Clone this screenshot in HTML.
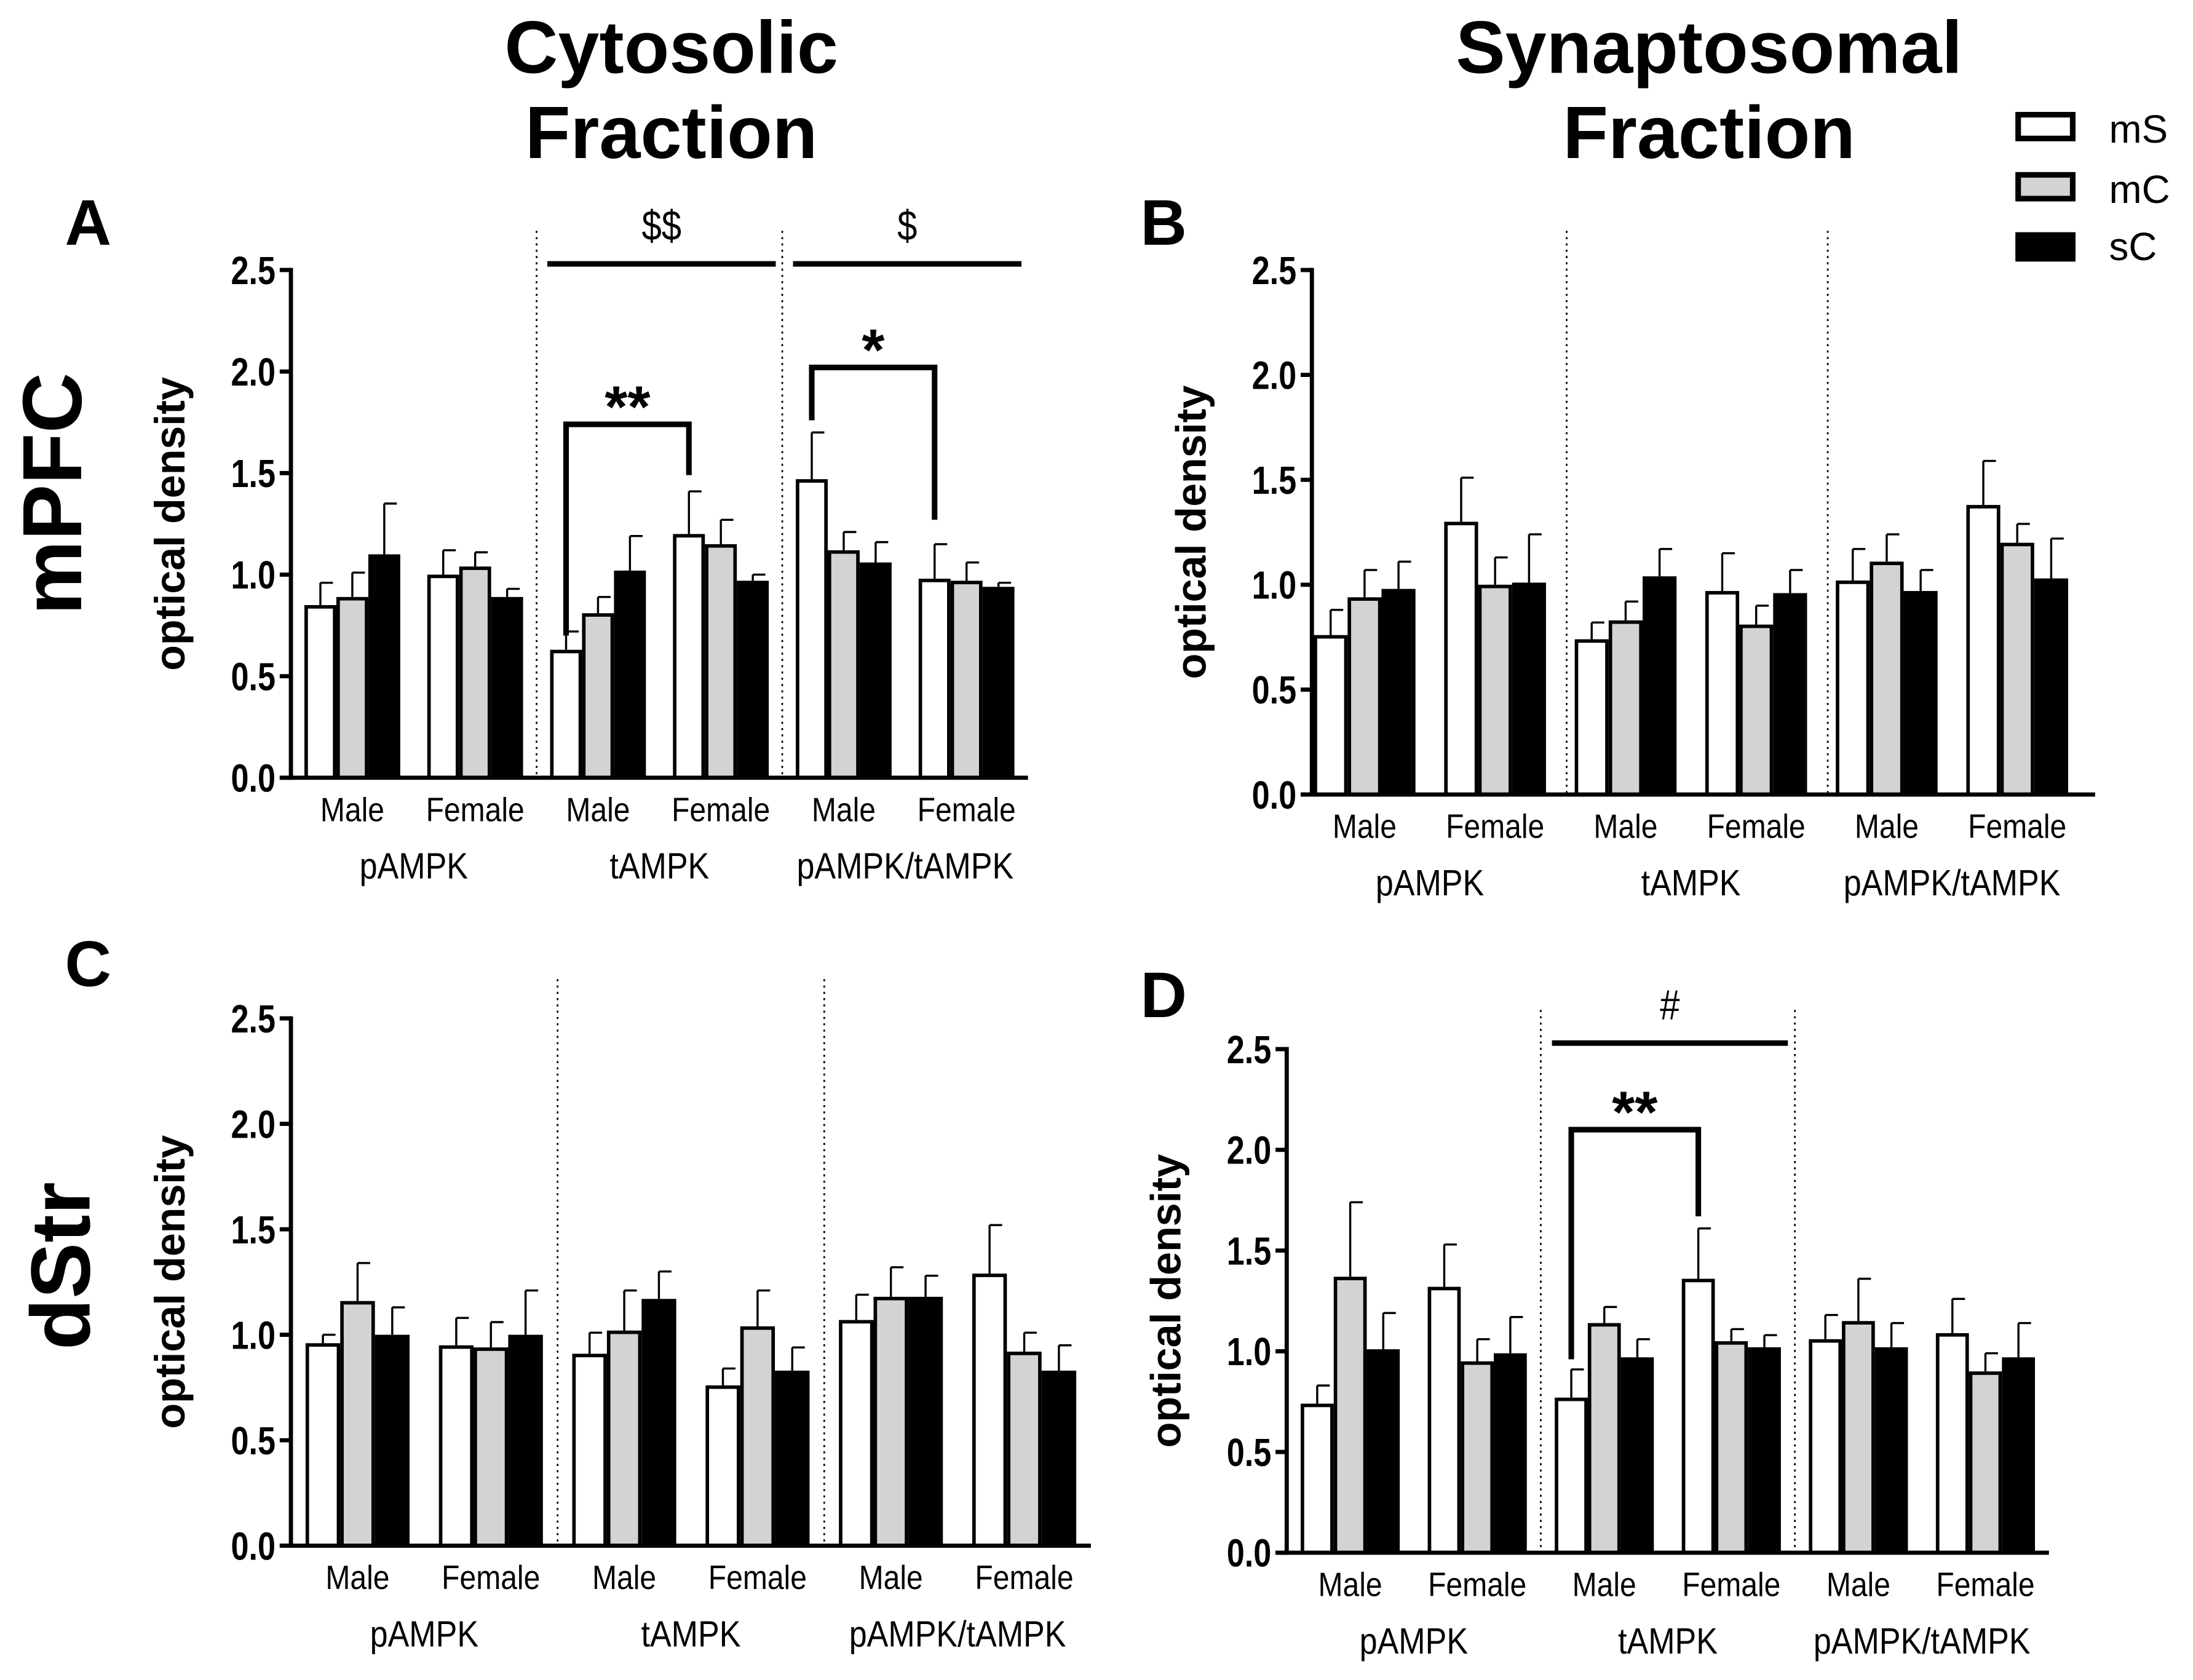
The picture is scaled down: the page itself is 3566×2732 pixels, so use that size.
<!DOCTYPE html>
<html><head><meta charset="utf-8"><style>
html,body{margin:0;padding:0;background:#fff}
svg{display:block}
text{font-family:"Liberation Sans",sans-serif}
</style></head><body>
<svg id="fig" xmlns="http://www.w3.org/2000/svg" width="3566" height="2732" viewBox="0 0 1568 1201" preserveAspectRatio="none">
<rect width="1568" height="1201" fill="#fff"/>
<text x="480" y="52" font-size="53" font-weight="bold" text-anchor="middle">Cytosolic</text>
<text x="480" y="113" font-size="53" font-weight="bold" text-anchor="middle">Fraction</text>
<text x="1222" y="52" font-size="53" font-weight="bold" text-anchor="middle">Synaptosomal</text>
<text x="1222" y="113" font-size="53" font-weight="bold" text-anchor="middle">Fraction</text>
<text transform="translate(58,353) rotate(-90)" font-size="60" font-weight="bold" text-anchor="middle">mPFC</text>
<text transform="translate(64,905) rotate(-90)" font-size="60" font-weight="bold" text-anchor="middle">dStr</text>
<g>
<rect x="1443" y="82" width="39" height="17" fill="#fff" stroke="#000" stroke-width="4"/>
<text x="1508" y="102" font-size="28">mS</text>
<rect x="1443" y="125" width="39" height="17" fill="#d3d3d3" stroke="#000" stroke-width="4"/>
<text x="1508" y="145" font-size="28">mC</text>
<rect x="1441" y="166" width="43" height="21" fill="#000"/>
<text x="1508" y="186" font-size="28">sC</text>
</g>
</svg>
<script>
const seriesNames=["mS","mC","sC"];
const clusterLabels=["Male","Female","Male","Female","Male","Female"];
const groupLabels=["pAMPK","tAMPK","pAMPK/tAMPK"];
const yTicks=[0,0.5,1.0,1.5,2.0,2.5];
const yTickLabels=["0.0","0.5","1.0","1.5","2.0","2.5"];
const panelA_values=[[0.85,0.89,1.10],[1.00,1.04,0.89],[0.63,0.81,1.02],[1.20,1.15,0.97],[1.47,1.12,1.06],[0.98,0.97,0.94]];
const panelA_errors=[[0.11,0.12,0.25],[0.12,0.07,0.04],[0.09,0.08,0.17],[0.21,0.12,0.03],[0.23,0.09,0.10],[0.17,0.09,0.02]];
const panelB_values=[[0.76,0.94,0.98],[1.30,1.00,1.01],[0.74,0.83,1.04],[0.97,0.81,0.96],[1.02,1.11,0.97],[1.38,1.20,1.03]];
const panelB_errors=[[0.12,0.13,0.13],[0.21,0.13,0.23],[0.08,0.09,0.13],[0.18,0.09,0.11],[0.15,0.13,0.10],[0.21,0.09,0.19]];
const panelC_values=[[0.96,1.16,1.00],[0.95,0.94,1.00],[0.91,1.02,1.17],[0.76,1.04,0.83],[1.07,1.18,1.18],[1.29,0.92,0.83]];
const panelC_errors=[[0.04,0.18,0.13],[0.13,0.12,0.21],[0.10,0.19,0.13],[0.08,0.17,0.11],[0.12,0.14,0.10],[0.23,0.09,0.12]];
const panelD_values=[[0.74,1.37,1.01],[1.32,0.95,0.99],[0.77,1.14,0.97],[1.36,1.05,1.02],[1.06,1.15,1.02],[1.09,0.90,0.97]];
const panelD_errors=[[0.09,0.37,0.18],[0.21,0.11,0.18],[0.14,0.08,0.09],[0.25,0.06,0.06],[0.12,0.21,0.12],[0.17,0.09,0.17]];
// significance: [leftCluster,rightCluster,leftBottom,top,rightBottom,label]
const panelA_brackets=[[2,3,0.70,1.74,1.49,"**"],[4,5,1.76,2.02,1.27,"*"]];
const panelA_lines=[[2,3,"$$"],[4,5,"$"]];
const panelD_brackets=[[2,3,0.96,2.10,1.67,"**"]];
const panelD_lines=[[2,3,"#"]];

const svg=document.getElementById('fig');
const NS="http://www.w3.org/2000/svg";
function mk(tag,attrs,parent){const e=document.createElementNS(NS,tag);for(const k in attrs)e.setAttribute(k,attrs[k]);(parent||svg).appendChild(e);return e;}
function squeeze(x,f){return `translate(${x},0) scale(${f},1) translate(${-x},0)`;}
const fills=["#fff","#d3d3d3","#000"];

function panel(id,letter,lx,ly,x0,yZero,yTop,xEnd,shift,vals,errs,brackets,lines){
  const g=mk('g',{});
  
  
  const yS=v=>yZero-(v/2.5)*(yZero-yTop);
  const slot=(xEnd-x0)/6;
  const bw=slot*0.26;
  const cStart=i=>x0+i*slot+slot*0.11+shift;
  const barX=(i,j)=>cStart(i)+j*bw;
  const L=mk('text',{x:lx,y:ly,'font-size':46,'font-weight':'bold','text-anchor':'middle'},g);
  L.textContent=letter;
  
  
  [2,4].forEach(k=>{
    const xd=x0+k*slot+shift*0.5;
    const d=mk('line',{x1:xd,x2:xd,y1:yTop-28,y2:yZero,stroke:'#000','stroke-width':1.2,'stroke-dasharray':'1.5 3'},g);
    
    
  });
  vals.forEach((cl,i)=>cl.forEach((v,j)=>{
    const x=barX(i,j);
    const e=errs[i][j];
    const eb=mk('line',{x1:x+bw/2,x2:x+bw/2,y1:yS(v),y2:yS(v+e),stroke:'#000','stroke-width':1.5},g);
    
    
    const cap=mk('line',{x1:x+bw/2,x2:x+bw/2+9,y1:yS(v+e),y2:yS(v+e),stroke:'#000','stroke-width':1.5},g);
    
    
    const r=mk('rect',{x:x+1.25,y:yS(v)+1.25,width:bw-2.5,height:Math.max(0,yS(0)-yS(v)-1.25),fill:fills[j],stroke:'#000','stroke-width':2.5},g);
    
    
  }));
  const ya=mk('line',{x1:x0,x2:x0,y1:yTop-1.5,y2:yZero+1.5,stroke:'#000','stroke-width':3},g);
  
  
  const xa=mk('line',{x1:x0-8,x2:xEnd,y1:yZero,y2:yZero,stroke:'#000','stroke-width':3},g);
  
  
  yTicks.forEach((t,k)=>{
    const tk=mk('line',{x1:x0-8,x2:x0,y1:yS(t),y2:yS(t),stroke:'#000','stroke-width':3},g);
    
    
    const tl=mk('text',{x:x0-11,y:yS(t)+10,'font-size':28,'font-weight':'bold','text-anchor':'end',transform:squeeze(x0-11,0.82)},g);
    tl.textContent=yTickLabels[k];
    
    
  });
  const yt=mk('text',{transform:`translate(${x0-76},${(yTop+yZero)/2}) rotate(-90)`,'font-size':30,'font-weight':'bold','text-anchor':'middle'},g);
  yt.textContent='optical density';
  
  
  clusterLabels.forEach((c,i)=>{
    const cx=cStart(i)+bw*1.5;
    const t=mk('text',{x:cx,y:yZero+31,'font-size':24,'text-anchor':'middle',transform:squeeze(cx,0.88)},g);
    t.textContent=c;
    
    
  });
  groupLabels.forEach((c,k)=>{
    const cx=x0+(2*k+1)*slot+shift;
    const t=mk('text',{x:cx,y:yZero+72,'font-size':26,'text-anchor':'middle',transform:squeeze(cx,0.88)},g);
    t.textContent=c;
    
    
  });
  (lines||[]).forEach(l=>{
    const xa1=cStart(l[0])-2, xa2=cStart(l[1])+3*bw+5;
    const sl=mk('line',{x1:xa1,x2:xa2,y1:yS(2.53),y2:yS(2.53),stroke:'#000','stroke-width':4},g);
    
    
    const cx=(xa1+xa2)/2;
    const st=mk('text',{x:cx,y:yS(2.53)-17,'font-size':30,'text-anchor':'middle',transform:squeeze(cx,0.85)},g);
    st.textContent=l[2];
    
    
  });
  (brackets||[]).forEach(b=>{
    const xl=barX(b[0],0)+bw/2, xr=barX(b[1],0)+bw/2;
    const p=mk('path',{d:`M${xl},${yS(b[2])} L${xl},${yS(b[3])} L${xr},${yS(b[3])} L${xr},${yS(b[4])}`,fill:'none',stroke:'#000','stroke-width':4},g);
    
    
    const st=mk('text',{x:(xl+xr)/2,y:yS(b[3])+2,'font-size':42,'font-weight':'bold','text-anchor':'middle'},g);
    st.textContent=b[5];
    
    
  });
}
panel('a','A',63,175,208,556,193,735,0,panelA_values,panelA_errors,panelA_brackets,panelA_lines);
panel('b','B',832,175,938,568,193,1498,-9,panelB_values,panelB_errors,null,null);
panel('c','C',63,705,208,1105,728,780,0,panelC_values,panelC_errors,null,null);
panel('d','D',832,727,920,1110,750,1465,0,panelD_values,panelD_errors,panelD_brackets,panelD_lines);
</script>
</body></html>
